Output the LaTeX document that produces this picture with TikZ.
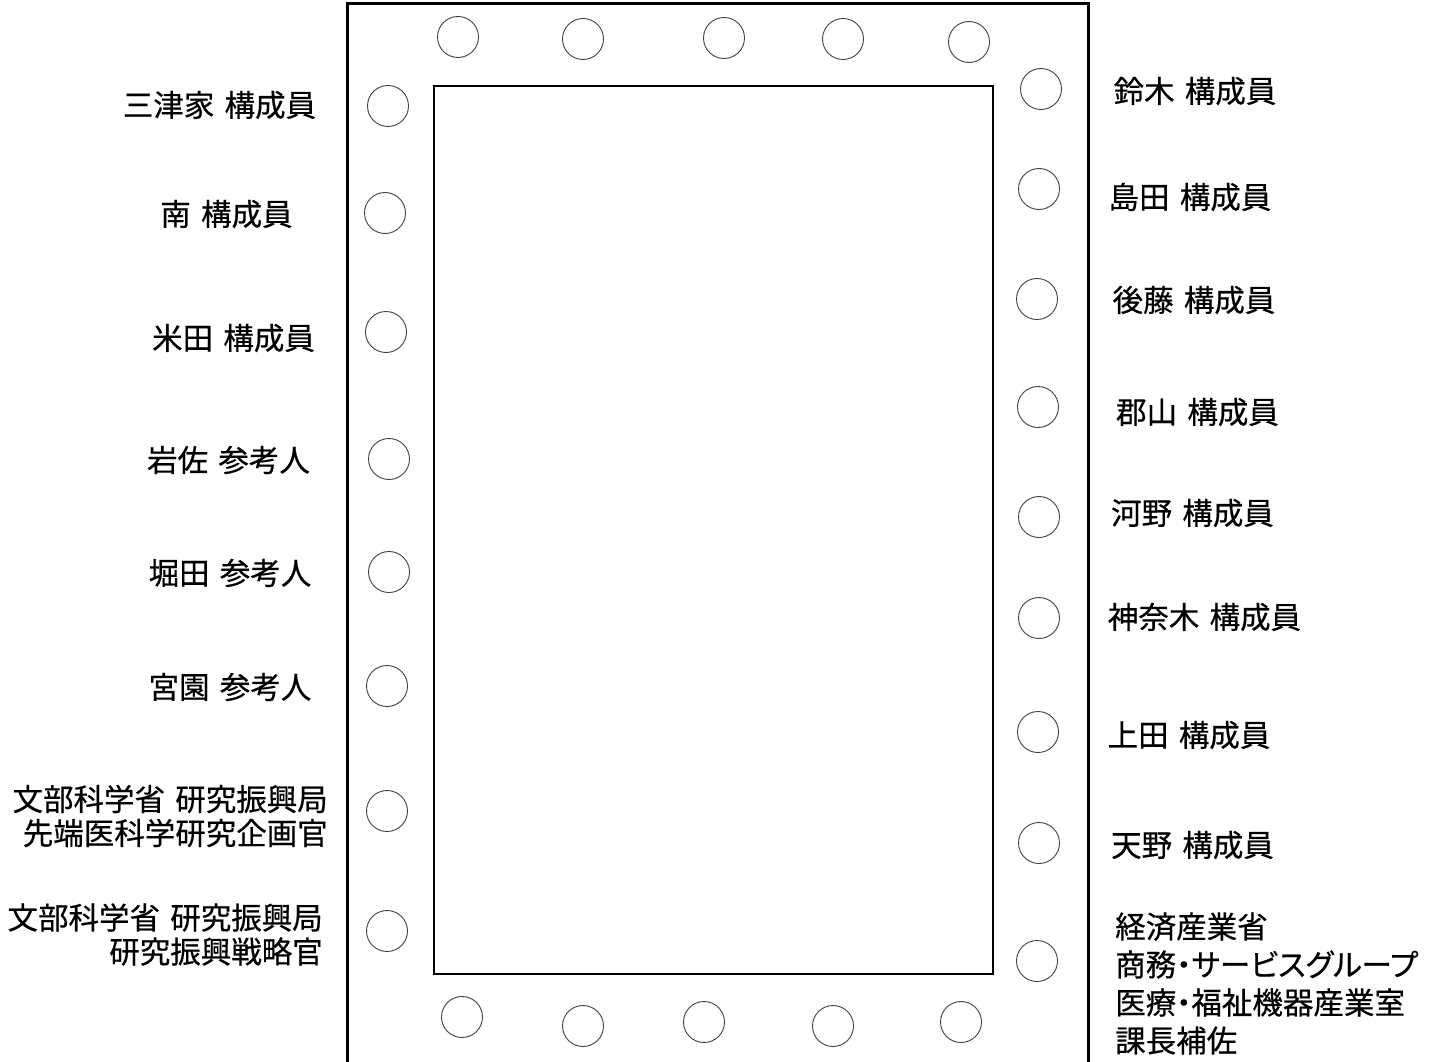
\documentclass[tikz,border=0pt]{standalone}
\usepackage{fontspec}
\setmainfont{Noto Sans CJK JP}[WordSpace=1.5,FakeBold=0.5]
\usepackage{tikz}

\begin{document}
\begin{tikzpicture}[x=1pt,y=-1pt,
    seat/.style={draw=black!75,line width=0.9pt,circle,minimum size=41pt,inner sep=0pt},
    who/.style={inner sep=0pt,font=\fontsize{30.5}{34}\selectfont},
    wall/.style={line width=3pt}]
    \useasboundingbox (0,0) rectangle (1437,1062);

    \draw[wall] (347,4) rectangle (1088,1063);
    \draw[line width=2.5pt] (434,86) rectangle (993,974);

    \node[seat] (t1) at (458,37) {};
    \node[seat] (t2) at (583,39) {};
    \node[seat] (t3) at (724,38) {};
    \node[seat] (t4) at (843,39) {};
    \node[seat] (t5) at (969,42) {};

    \node[seat] (b1) at (462,1017) {};
    \node[seat] (b2) at (583,1026) {};
    \node[seat] (b3) at (704,1022) {};
    \node[seat] (b4) at (833,1026) {};
    \node[seat] (b5) at (961,1022) {};

    \node[seat] (l1) at (388,106) {};
    \node[seat] (l2) at (385,213) {};
    \node[seat] (l3) at (386,332) {};
    \node[seat] (l4) at (389,459) {};
    \node[seat] (l5) at (389,572) {};
    \node[seat] (l6) at (387,686) {};
    \node[seat] (l7) at (387,811) {};
    \node[seat] (l8) at (387,931) {};

    \node[seat] (r1) at (1041,89) {};
    \node[seat] (r2) at (1039,189) {};
    \node[seat] (r3) at (1037,299) {};
    \node[seat] (r4) at (1038,407) {};
    \node[seat] (r5) at (1039,517) {};
    \node[seat] (r6) at (1039,618) {};
    \node[seat] (r7) at (1038,732) {};
    \node[seat] (r8) at (1039,843) {};
    \node[seat] (r9) at (1037,961) {};

    \node[who] (mitsuke) at (219.5,105) {三津家 構成員};
    \node[who] (minami) at (226.5,214) {南 構成員};
    \node[who] (yoneda) at (233.5,338) {米田 構成員};
    \node[who] (iwasa) at (228.5,460) {岩佐 参考人};
    \node[who] (horita) at (230,573) {堀田 参考人};
    \node[who] (miyazono) at (230,687) {宮園 参考人};
    \node[who,anchor=east,align=right] (mext1) at (328,816) {文部科学省 研究振興局\\先端医科学研究企画官};
    \node[who,anchor=east,align=right] (mext2) at (323,934.5) {文部科学省 研究振興局\\研究振興戦略官};

    \node[who] (suzuki) at (1195,91) {鈴木 構成員};
    \node[who] (shimada) at (1190,197) {島田 構成員};
    \node[who] (goto) at (1194,300) {後藤 構成員};
    \node[who] (koriyama) at (1197.5,412) {郡山 構成員};
    \node[who] (kono) at (1192.5,513) {河野 構成員};
    \node[who] (kanagi) at (1204.5,617) {神奈木 構成員};
    \node[who] (ueda) at (1189,735) {上田 構成員};
    \node[who] (amano) at (1192.5,845) {天野 構成員};
    \node[who,anchor=west,align=left,font=\fontsize{30.5}{38}\selectfont\addfontfeatures{RawFeature=+palt}] (meti) at (1115,983.5)
        {経済産業省\\商務・サービスグループ\\医療・福祉機器産業室\\課長補佐};
\end{tikzpicture}
\end{document}
